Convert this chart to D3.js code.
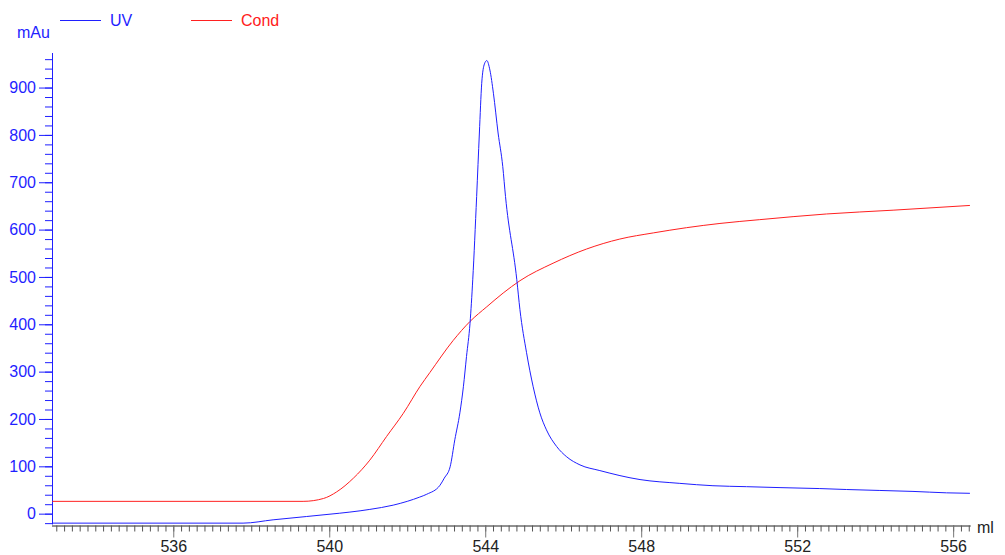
<!DOCTYPE html>
<html>
<head>
<meta charset="utf-8">
<script src="https://cdn.jsdelivr.net/npm/d3@7"></script>
<style>
  body { margin: 0; background: #fff; }
  svg { display: block; font-family: "Liberation Sans", Arial, sans-serif; }
</style>
</head>
<body>
<div id="chart"></div>
<script>
// UV trace (mAu) vs volume (ml)
var uvMl = [532.9, 537.79, 538.56, 539.42, 540.27, 540.79, 541.04, 541.64, 542.0, 542.32, 542.5, 542.84, 542.95,
  543.10, 543.22, 543.35, 543.44, 543.52, 543.61, 543.68, 543.78, 543.85, 543.91, 543.98, 544.04, 544.12,
  544.21, 544.33, 544.45, 544.52, 544.81, 544.89, 545.06, 545.23, 545.40, 545.57, 545.83, 546.09, 546.43,
  546.94, 547.97, 548.99, 549.84, 550.70, 551.56, 552.58, 553.27, 554.12, 554.97, 555.83, 556.43];
var uvValues = [-20, -20, -13, -6, 1, 6, 9, 18, 26, 35, 41, 60, 75,
  99, 156, 213, 268, 332, 402, 494, 670, 804, 909, 950, 957, 937,
  888, 804, 733, 670, 494, 431, 340, 268, 213, 177, 142, 120, 103,
  91, 72, 64, 59, 57, 55, 53, 51, 49, 47, 44, 43];

// Conductivity trace
var condMl = [532.9, 539.33, 539.85, 540.19, 540.62, 541.04, 541.47, 541.90, 542.33, 542.58, 543.18,
  543.61, 544.04, 544.46, 544.89, 545.74, 546.60, 547.45, 548.31, 549.16, 550.02, 551.04, 552.75, 554.46, 556.43];
var condValues = [26, 26, 32, 46, 75, 113, 163, 212, 269, 298, 366,
  406, 437, 466, 492, 529, 559, 580, 593, 604, 613, 621, 633, 641, 651];

var xTicks = [536, 540, 544, 548, 552, 556];
var yTicks = [0, 100, 200, 300, 400, 500, 600, 700, 800, 900];

var width = 1005, height = 555;
var margin = { left: 52, right: 970.7, top: 53, bottom: 525.5 };

var svg = d3.select("#chart").append("svg")
    .attr("width", width)
    .attr("height", height);

var x = d3.scaleLinear().domain([532.89, 556.45]).range([margin.left, margin.right]);
var y = d3.scaleLinear().domain([-25, 973]).range([margin.bottom, margin.top]);

var blue = "#1f1fff", red = "#ff2020";

// x axis - minor ticks every 0.2 ml
var xMinor = d3.range(533, 556.45, 0.2).map(function(d) { return Math.round(d * 10) / 10; });
var xAxisMinor = d3.axisBottom(x).tickValues(xMinor).tickSize(6).tickFormat("");
svg.append("g")
    .attr("transform", "translate(0," + margin.bottom + ")")
    .call(xAxisMinor)
    .call(function(g) {
      g.select(".domain").attr("stroke", "#222").attr("d", "M" + margin.left + ",0.5H" + margin.right);
      g.selectAll(".tick line").attr("stroke", "#555");
    });

var xAxis = d3.axisBottom(x).tickValues(xTicks).tickSize(12).tickPadding(3);
svg.append("g")
    .attr("transform", "translate(0," + margin.bottom + ")")
    .call(xAxis)
    .call(function(g) {
      g.select(".domain").remove();
      g.selectAll(".tick line").attr("stroke", "#777");
      g.selectAll(".tick text").attr("fill", "#222").attr("font-size", 16).attr("dy", "0.71em");
    });

svg.append("text")
    .attr("x", 977).attr("y", 533)
    .attr("fill", "#222").attr("font-size", 16)
    .text("ml");

// y axis
var yMinor = d3.range(-20, 961, 20);
var yAxisMinor = d3.axisLeft(y).tickValues(yMinor).tickSize(7).tickFormat("");
svg.append("g")
    .attr("transform", "translate(" + margin.left + ",0)")
    .call(yAxisMinor)
    .call(function(g) {
      g.select(".domain").attr("stroke", blue).attr("d", "M0.5," + (margin.bottom - 1) + "V" + margin.top);
      g.selectAll(".tick line").attr("stroke", blue);
    });

var yAxis = d3.axisLeft(y).tickValues(yTicks).tickSize(13).tickPadding(3);
svg.append("g")
    .attr("transform", "translate(" + margin.left + ",0)")
    .call(yAxis)
    .call(function(g) {
      g.select(".domain").remove();
      g.selectAll(".tick line").attr("stroke", blue);
      g.selectAll(".tick text").attr("fill", blue).attr("font-size", 16);
    });

svg.append("text")
    .attr("x", 17).attr("y", 38)
    .attr("fill", blue).attr("font-size", 16)
    .text("mAu");

// lines
var line = d3.line()
    .x(function(d) { return x(d[0]); })
    .y(function(d) { return y(d[1]); })
    .curve(d3.curveMonotoneX);

svg.append("path")
    .datum(d3.zip(condMl, condValues))
    .attr("fill", "none")
    .attr("stroke", red)
    .attr("stroke-width", 1)
    .attr("d", line);

svg.append("path")
    .datum(d3.zip(uvMl, uvValues))
    .attr("fill", "none")
    .attr("stroke", blue)
    .attr("stroke-width", 1)
    .attr("d", line);

// legend
var legend = [{ name: "UV", color: blue, x: 60 }, { name: "Cond", color: red, x: 191 }];
var lg = svg.selectAll(".legend").data(legend).enter().append("g").attr("class", "legend");
lg.append("line")
    .attr("x1", function(d) { return d.x; })
    .attr("x2", function(d) { return d.x + 41; })
    .attr("y1", 20.5).attr("y2", 20.5)
    .attr("stroke", function(d) { return d.color; });
lg.append("text")
    .attr("x", function(d) { return d.x + 50; })
    .attr("y", 25.5)
    .attr("fill", function(d) { return d.color; })
    .attr("font-size", 16)
    .text(function(d) { return d.name; });
</script>
</body>
</html>
